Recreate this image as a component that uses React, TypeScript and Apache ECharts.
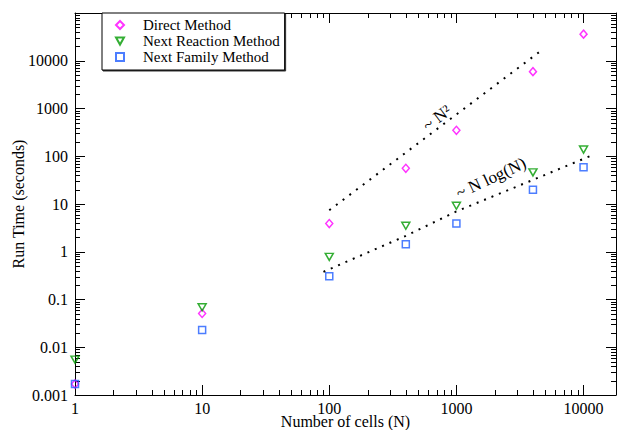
import React, { useEffect, useRef } from "react";
import * as echarts from "echarts";

// ---- data ----
const cells = [1, 10, 100, 400, 1000, 4000, 10000];
const directMethod = [0.0017, 0.051, 3.9, 56, 350, 5900, 36000];
const nextReactionMethod = [0.0055, 0.069, 0.78, 3.5, 9.2, 46, 138];
const nextFamilyMethod = [0.0017, 0.023, 0.305, 1.44, 3.9, 20, 59];

// guide lines (dotted)
const squareGuideN = [100, 4450];
const squareGuideT = [7.4, 15000];
const nlognGuideN = [90, 100, 400, 1000, 4000, 11900];
const nlognGuideT = [0.38, 0.43, 2.15, 7.0, 32, 107];

// axes
const xTickValues = [1, 10, 100, 1000, 10000];
const xTickLabels = ["1", "10", "100", "1000", "10000"];
const yTickValues = [0.001, 0.01, 0.1, 1, 10, 100, 1000, 10000];
const yTickLabels = ["0.001", "0.01", "0.1", "1", "10", "100", "1000", "10000"];
const minorMultipliers = [2, 3, 4, 5, 6, 7, 8, 9];
const xDecades = [1, 10, 100, 1000, 10000];
const yDecades = [0.001, 0.01, 0.1, 1, 10, 100, 1000, 10000];

const X_MIN = 1;
const X_MAX = 18000;
const Y_MIN = 0.001;
const Y_MAX = 100000;

const FONT = '"Liberation Serif", serif';
const MINOR_LEN = 5;

function minorValues(decades: number[], max: number): number[] {
  const out: number[] = [];
  decades.forEach((d) => {
    minorMultipliers.forEach((m) => {
      const v = d * m;
      if (v < max) out.push(v);
    });
  });
  return out;
}

function labelFor(values: number[], labels: string[]) {
  return (v: number) => {
    for (let i = 0; i < values.length; i++) {
      if (Math.abs(Math.log10(v) - Math.log10(values[i])) < 0.01) return labels[i];
    }
    return String(v);
  };
}

const pairs = (xs: number[], ys: number[]) => xs.map((x, i) => [x, ys[i]]);

export default function App() {
  const ref = useRef<HTMLDivElement>(null);
  useEffect(() => {
    if (!ref.current) return;
    const chart = echarts.init(ref.current, null, { renderer: "svg" });
    const minorX = minorValues(xDecades, X_MAX);
    const minorY = minorValues(yDecades, Y_MAX);

    const majorX = (pos: string, withLabels: boolean) => ({
      type: "log",
      logBase: 10,
      min: X_MIN,
      max: X_MAX,
      position: pos,
      axisLine: { show: true, onZero: false, lineStyle: { color: "#000", width: 1 } },
      axisTick: { show: true, inside: true, length: 10 },
      axisLabel: withLabels
        ? {
            show: true,
            formatter: labelFor(xTickValues, xTickLabels),
            showMaxLabel: false,
            margin: 5,
            color: "#000",
            fontFamily: FONT,
            fontSize: 16,
          }
        : { show: false },
      splitLine: { show: false },
      ...(withLabels
        ? {
            name: "Number of cells (N)",
            nameLocation: "middle",
            nameGap: 18,
            nameMoveOverlap: false,
            nameTextStyle: { color: "#000", fontFamily: FONT, fontSize: 16 },
          }
        : {}),
    });
    const majorY = (pos: string, withLabels: boolean) => ({
      type: "log",
      logBase: 10,
      min: Y_MIN,
      max: Y_MAX,
      position: pos,
      axisLine: { show: true, onZero: false, lineStyle: { color: "#000", width: 1 } },
      axisTick: { show: true, inside: true, length: 10 },
      axisLabel: withLabels
        ? {
            show: true,
            formatter: labelFor(yTickValues, yTickLabels),
            showMaxLabel: false,
            margin: 7,
            color: "#000",
            fontFamily: FONT,
            fontSize: 16,
          }
        : { show: false },
      splitLine: { show: false },
      ...(withLabels
        ? {
            name: "Run Time (seconds)",
            nameLocation: "middle",
            nameGap: 49,
            nameMoveOverlap: false,
            nameTextStyle: { color: "#000", fontFamily: FONT, fontSize: 16 },
          }
        : {}),
    });

    const open = (c: string) => ({ color: "rgba(0,0,0,0)", borderColor: c, borderWidth: 1.5 });

    chart.setOption({
      animation: false,
      backgroundColor: "#fff",
      grid: { left: 75, right: 8, top: 13, bottom: 35, containLabel: false, outerBoundsMode: "none" },
      xAxis: [majorX("bottom", true), majorX("top", false)],
      yAxis: [majorY("left", true), majorY("right", false)],
      legend: {
        data: ["Direct Method", "Next Reaction Method", "Next Family Method"],
        orient: "vertical",
        left: 102,
        top: 13,
        padding: [4, 5, 5, 13],
        itemWidth: 8,
        itemHeight: 8,
        itemGap: 0,
        backgroundColor: "#fff",
        borderColor: "#000",
        borderWidth: 1,
        shadowColor: "rgba(0,0,0,0.8)",
        shadowBlur: 0,
        shadowOffsetX: 1,
        shadowOffsetY: 1,
        selectedMode: false,
        textStyle: { color: "#000", fontFamily: FONT, fontSize: 15, lineHeight: 16, padding: [0, 0, 0, 14] },
      },
      series: [
        {
          type: "custom",
          data: minorX.map((v) => [v, 1]),
          renderItem: (_p: any, api: any) => {
            const v = api.value(0);
            const b = api.coord([v, Y_MIN]);
            const t = api.coord([v, Y_MAX]);
            const x = Math.round(b[0]) + 0.5;
            return {
              type: "group",
              children: [
                { type: "line", shape: { x1: x, y1: b[1], x2: x, y2: b[1] - MINOR_LEN }, style: { stroke: "#000", lineWidth: 1 } },
                { type: "line", shape: { x1: x, y1: t[1], x2: x, y2: t[1] + MINOR_LEN }, style: { stroke: "#000", lineWidth: 1 } },
              ],
            };
          },
        },
        {
          type: "custom",
          data: minorY.map((v) => [10, v]),
          renderItem: (_p: any, api: any) => {
            const v = api.value(1);
            const l = api.coord([X_MIN, v]);
            const r = api.coord([X_MAX, v]);
            const y = Math.round(l[1]) + 0.5;
            return {
              type: "group",
              children: [
                { type: "line", shape: { x1: l[0], y1: y, x2: l[0] + MINOR_LEN, y2: y }, style: { stroke: "#000", lineWidth: 1 } },
                { type: "line", shape: { x1: r[0], y1: y, x2: r[0] - MINOR_LEN, y2: y }, style: { stroke: "#000", lineWidth: 1 } },
              ],
            };
          },
        },
        {
          type: "line",
          data: pairs(squareGuideN, squareGuideT),
          showSymbol: false,
          symbol: "none",
          lineStyle: { color: "#000", width: 2, type: [2, 6.4], cap: "butt" },
        },
        {
          type: "line",
          data: pairs(nlognGuideN, nlognGuideT),
          showSymbol: false,
          symbol: "none",
          lineStyle: { color: "#000", width: 2, type: [2, 6], cap: "butt" },
        },
        {
          type: "scatter",
          name: "Direct Method",
          data: pairs(cells, directMethod),
          symbol: "diamond",
          symbolSize: [7, 8],
          itemStyle: open("#ff00ff"),
        },
        {
          type: "scatter",
          name: "Next Reaction Method",
          data: pairs(cells, nextReactionMethod),
          symbol: "path://M0,0L10,0L5,9Z",
          symbolSize: [8, 7],
          itemStyle: open("#009a00"),
        },
        {
          type: "scatter",
          name: "Next Family Method",
          data: pairs(cells, nextFamilyMethod),
          symbol: "rect",
          symbolSize: 7,
          itemStyle: open("#1f5cff"),
        },
      ],
      graphic: [
        {
          type: "text",
          x: 437,
          y: 118,
          rotation: (37 * Math.PI) / 180,
          style: { text: "~ N²", fill: "#000", font: `17px ${FONT}`, align: "center", verticalAlign: "middle" },
        },
        {
          type: "text",
          x: 491,
          y: 178,
          rotation: (25 * Math.PI) / 180,
          style: { text: "~ N log(N)", fill: "#000", font: `17px ${FONT}`, align: "center", verticalAlign: "middle" },
        },
      ],
    });
    return () => chart.dispose();
  }, []);
  return <div ref={ref} style={{ position: "fixed", left: 0, top: 0, width: 624, height: 430 }} />;
}
